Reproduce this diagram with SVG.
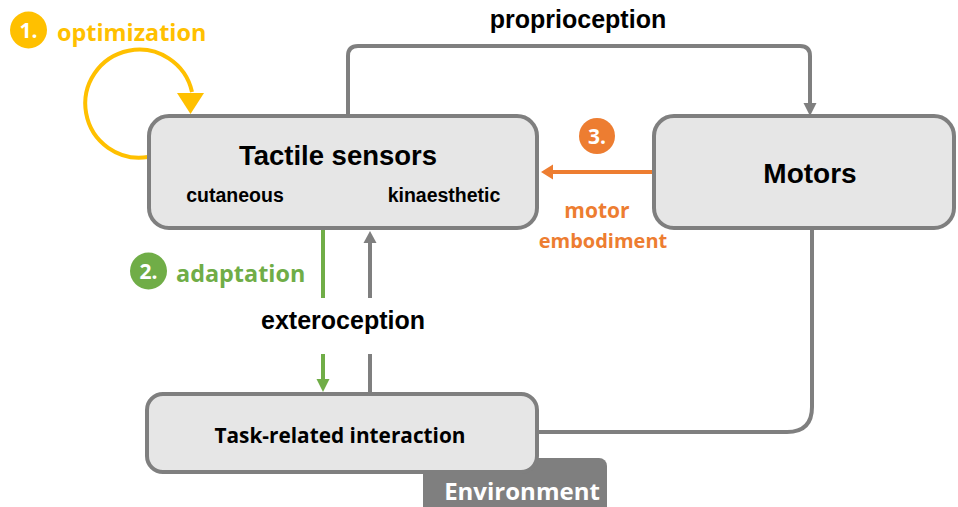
<svg xmlns="http://www.w3.org/2000/svg" width="958" height="507" viewBox="0 0 958 507">
<style>
.box{fill:#e6e6e6;stroke:#7f7f7f;stroke-width:4}
.con{fill:none;stroke:#7f7f7f;stroke-width:4}
.arial{font-family:"Liberation Sans",Arial,sans-serif;font-weight:bold;fill:#000}
.cal{font-family:"Open Sans","Noto Sans",sans-serif;font-weight:bold}
.num{font-family:"Open Sans","Noto Sans",sans-serif;font-weight:bold;fill:#fff;font-size:21px}
</style>
<rect width="958" height="507" fill="#fff"/>
<g id="environment">
<rect x="423" y="458" width="184" height="70" rx="8" fill="#7f7f7f"/>
<text class="cal" x="522" y="500" font-size="24" fill="#fff" text-anchor="middle">Environment</text>
</g>
<g id="connectors">
<path class="con" d="M348 116 L348 56 Q348 46 358 46 L800 46 Q810 46 810 56 L810 104"/>
<polygon points="803.5,103 816.5,103 810,116" fill="#7f7f7f"/>
<path class="con" d="M812 230 L812 407 Q812 432 787 432 L537 432"/>
<path fill="none" stroke="#ed7d31" stroke-width="4" d="M654 172 L552 172"/>
<polygon points="553,164.5 553,179.5 541,172" fill="#ed7d31"/>
<path fill="none" stroke="#70ad47" stroke-width="4" d="M323 230 L323 298 M323 354 L323 380"/>
<polygon points="316.5,379 329.5,379 323,392" fill="#70ad47"/>
<path class="con" d="M370 243 L370 298 M370 354 L370 393"/>
<polygon points="363.5,243 376.5,243 370,231" fill="#7f7f7f"/>
<path fill="none" stroke="#ffc000" stroke-width="4" d="M148 157 A54 54 0 1 1 192 92"/>
<polygon points="177,93 204,93 190.5,114" fill="#ffc000"/>
</g>
<g id="tactile">
<rect class="box" x="149" y="116" width="388" height="112" rx="20"/>
<text class="arial" x="338" y="165" font-size="27.5" text-anchor="middle">Tactile sensors</text>
<text class="arial" x="235" y="202" font-size="19.5" text-anchor="middle">cutaneous</text>
<text class="arial" x="444" y="202" font-size="19.5" text-anchor="middle">kinaesthetic</text>
</g>
<g id="motors">
<rect class="box" x="654" y="116" width="300" height="112" rx="20"/>
<text class="arial" x="810" y="183" font-size="28" text-anchor="middle">Motors</text>
</g>
<g id="task">
<rect class="box" x="147" y="394" width="390" height="78" rx="16"/>
<text class="cal" x="340" y="443" font-size="20.8" fill="#000" text-anchor="middle">Task-related interaction</text>
</g>
<g id="labels">
<text class="arial" x="578" y="28" font-size="25" text-anchor="middle">proprioception</text>
<text class="arial" x="343" y="329" font-size="25" text-anchor="middle">exteroception</text>
<circle cx="28.5" cy="30" r="18.5" fill="#ffc000"/>
<text class="num" x="28.5" y="37.5" text-anchor="middle">1.</text>
<text class="cal" x="57" y="41" font-size="23.4" fill="#ffc000">optimization</text>
<circle cx="148.5" cy="271" r="18.5" fill="#70ad47"/>
<text class="num" x="148.5" y="278.5" text-anchor="middle">2.</text>
<text class="cal" x="176" y="282" font-size="23.4" fill="#70ad47">adaptation</text>
<circle cx="597" cy="136" r="18" fill="#ed7d31"/>
<text class="num" x="597" y="143.5" text-anchor="middle">3.</text>
<text class="cal" x="597" y="218" font-size="21" fill="#ed7d31" text-anchor="middle">motor</text>
<text class="cal" x="603" y="248" font-size="20" fill="#ed7d31" text-anchor="middle">embodiment</text>
</g>
</svg>
